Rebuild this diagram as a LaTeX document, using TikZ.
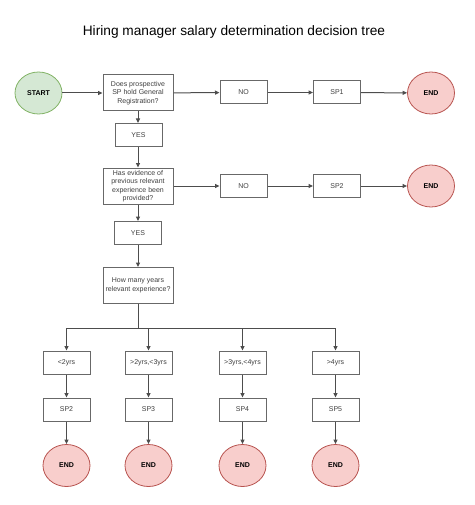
\documentclass[tikz,border=0pt]{standalone}
\usepackage{fontspec}
\setmainfont{Liberation Sans}
\usetikzlibrary{shapes.geometric,arrows.meta}
\definecolor{startfill}{HTML}{D5E8D4}
\definecolor{startline}{HTML}{82B366}
\definecolor{endfill}{HTML}{F8CECC}
\definecolor{endline}{HTML}{B85450}
\definecolor{edge}{HTML}{4D4D4D}
\tikzset{
	box/.style={draw=edge!85,line width=1pt,fill=white,minimum width=47pt,minimum height=23pt,inner sep=1pt,text=black!75,font=\fontsize{7}{8.5}\selectfont,align=center},
	qbox/.style={box,minimum width=70pt,minimum height=36pt},
	startnode/.style={ellipse,draw=startline,fill=startfill,line width=0.8pt,minimum width=47pt,minimum height=42pt,inner sep=0pt,font=\fontsize{7}{8.5}\selectfont\bfseries},
	endnode/.style={ellipse,draw=endline,fill=endfill,line width=0.8pt,minimum width=47pt,minimum height=42pt,inner sep=0pt,font=\fontsize{7}{8.5}\selectfont\bfseries},
	arr/.style={-{Triangle[length=4.5pt,width=4pt]},draw=edge,line width=1pt}
}
\begin{document}
\begin{tikzpicture}[x=1pt,y=-1pt]
	\useasboundingbox (0,0) rectangle (474,505);
	\node[font=\fontsize{13.7}{16}\selectfont] (title) at (234,32) {Hiring manager salary determination decision tree};
	% first question
	\node[startnode] (start) at (38.5,93) {START};
	\node[qbox] (q1) at (138,93) {Does prospective\\SP hold General\\Registration?};
	\node[box] (no1) at (243.5,92.5) {NO};
	\node[box] (sp1) at (337,92.5) {SP1};
	\node[endnode] (end1) at (431,93) {END};
	\node[box] (yes1) at (138.5,135) {YES};
	% second question
	\node[qbox] (q2) at (138,186) {Has evidence of\\previous relevant\\experience been\\provided?};
	\node[box] (no2) at (243.5,186) {NO};
	\node[box] (sp2) at (337,186) {SP2};
	\node[endnode] (end2) at (431,186) {END};
	\node[box] (yes2) at (138,233) {YES};
	\node[qbox] (q3) at (138,285.5) {How many years\\relevant experience?};
	\coordinate (fork) at (138,328);
	% years
	\foreach \i/\x/\yrs/\sp in {1/66.5/{<2yrs}/SP2,2/148.5/{>2yrs,<3yrs}/SP3,3/242.5/{>3yrs,<4yrs}/SP4,4/335.5/{>4yrs}/SP5}{
		\node[box] (r\i) at (\x,362.5) {\yrs};
		\node[box] (s\i) at (\x,409.5) {\sp};
		\node[endnode] (e\i) at (\x,465.5) {END};
		\draw[arr] (fork) -| (r\i);
		\draw[arr] (r\i) -- (s\i);
		\draw[arr] (s\i) -- (e\i);
	}
	\draw[arr] (start) -- (q1);
	\draw[arr] (q1) -- (no1);
	\draw[arr] (no1) -- (sp1);
	\draw[arr] (sp1) -- (end1);
	\draw[arr] (q1.south) -- (q1.south |- yes1.north);
	\draw[arr] (yes1.south -| q2.north) -- (q2);
	\draw[arr] (q2) -- (no2);
	\draw[arr] (no2) -- (sp2);
	\draw[arr] (sp2) -- (end2);
	\draw[arr] (q2) -- (yes2);
	\draw[arr] (yes2) -- (q3);
	\draw[draw=edge,line width=1pt] (q3) -- (fork);
\end{tikzpicture}
\end{document}
